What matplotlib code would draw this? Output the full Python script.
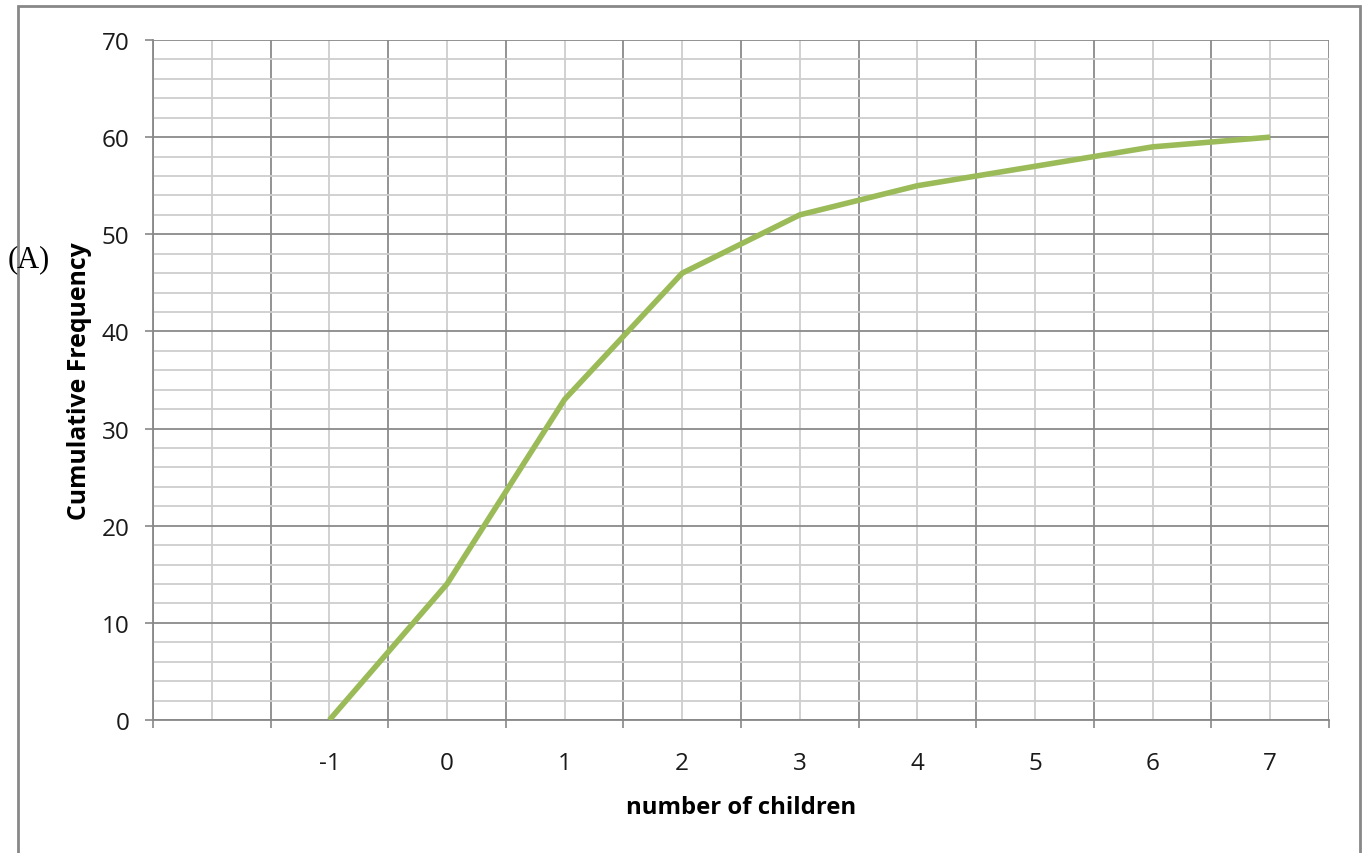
import matplotlib.pyplot as plt
from matplotlib.patches import Rectangle
from matplotlib.ticker import MultipleLocator, FixedLocator

categories = ["", "-1", "0", "1", "2", "3", "4", "5", "6", "7"]
cum_freq = [None, 0, 14, 33, 46, 52, 55, 57, 59, 60]

xs = [i for i, v in enumerate(cum_freq) if v is not None]
ys = [v for v in cum_freq if v is not None]

fig = plt.figure(figsize=(13.68, 8.54), dpi=100)
ax = fig.add_axes([153 / 1368, 1 - 721 / 854, (1329 - 153) / 1368, (721 - 41) / 854])

ax.plot(xs, ys, color="#9BBB59", lw=4, solid_capstyle="butt", solid_joinstyle="round", zorder=3)

ax.set_xlim(-0.5, len(categories) - 0.5)
ax.set_ylim(0, 70)

# category boundaries as major ticks, centres as minor ticks carrying labels
ax.xaxis.set_major_locator(FixedLocator([i - 0.5 for i in range(len(categories) + 1)]))
ax.xaxis.set_minor_locator(FixedLocator(list(range(len(categories)))))
ax.set_xticklabels([])
ax.set_xticklabels(categories, minor=True)
ax.yaxis.set_major_locator(MultipleLocator(10))
ax.yaxis.set_minor_locator(MultipleLocator(2))

ax.tick_params(axis="x", which="major", length=6, width=1.2, color="#888888", direction="out")
ax.tick_params(axis="x", which="minor", length=0, pad=22, labelsize=17.5, labelcolor="#1a1a1a")
ax.tick_params(axis="y", which="major", length=6, width=1.2, color="#888888", pad=11,
               labelsize=17.5, labelcolor="#1a1a1a")
ax.tick_params(axis="y", which="minor", length=0)
for lab in ax.get_xticklabels(minor=True) + ax.get_yticklabels():
    lab.set_family("Open Sans")

ax.grid(which="major", color="#8a8a8a", lw=1.3)
ax.grid(which="minor", color="#cecece", lw=1.3)
ax.set_axisbelow(True)

for side in ["top", "right"]:
    ax.spines[side].set_visible(False)
ax.spines["left"].set_color("#888888")
ax.spines["bottom"].set_color("#888888")
ax.spines["left"].set_linewidth(1.3)
ax.spines["bottom"].set_linewidth(1.3)

ax.set_xlabel("number of children", fontsize=17.2, fontweight="bold", family="Open Sans", labelpad=15)
ax.set_ylabel("Cumulative Frequency", fontsize=17.8, fontweight="bold", family="Open Sans", labelpad=7)

fig.patches.append(Rectangle((18 / 1368, -0.1), (1360 - 18) / 1368, 1.1 - 7 / 854,
                             transform=fig.transFigure, fill=False, ec="#888888", lw=2))
fig.text(8 / 1368, 1 - 260 / 854, "(A)", fontsize=22, family="Liberation Serif", va="center", ha="left")

fig.savefig("out.png", dpi=100)
plt.close(fig)
